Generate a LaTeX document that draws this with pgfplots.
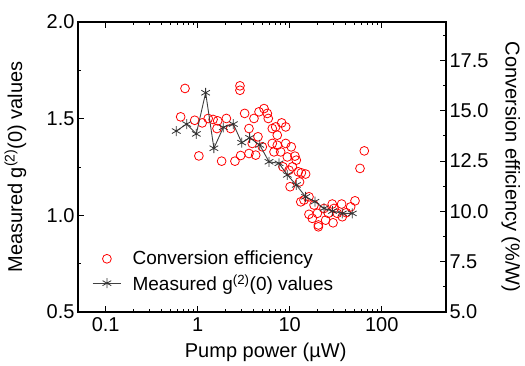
\documentclass[border=0pt]{standalone}
\usepackage{pgfplots}
\pgfplotsset{compat=1.18}
\usepackage{fontspec}
\setmainfont{Liberation Sans}
\pgfplotstableread{
x y
0.728 16.10
0.653 14.69
0.928 14.52
1.03 12.75
1.12 14.39
1.30 14.61
1.47 14.56
1.65 14.49
1.62 14.11
1.82 12.49
2.05 14.61
2.28 14.11
2.54 12.49
2.88 16.23
2.88 16.01
2.93 12.77
3.24 14.86
3.61 14.11
3.61 12.87
3.92 13.37
4.09 14.61
4.27 12.79
4.52 13.70
4.64 14.94
5.26 15.10
5.04 13.20
5.71 14.86
5.85 14.61
6.47 14.11
6.47 13.37
6.75 12.95
7.04 14.19
7.33 13.78
7.33 13.28
8.18 14.39
7.98 12.95
8.46 12.21
9.05 14.19
9.05 13.37
9.42 12.70
9.83 12.04
10.1 11.22
10.4 13.20
10.7 12.21
11.4 12.74
11.8 12.54
12.4 11.96
12.8 11.46
13.4 11.91
14.9 11.85
13.2 10.47
14.3 10.56
16.2 10.72
16.2 9.85
17.6 9.65
18.4 10.31
20.0 9.90
20.5 9.32
20.5 9.23
23.6 10.14
24.6 9.56
26.3 9.90
29.0 10.36
29.6 9.43
30.3 10.14
32.9 9.90
36.7 10.36
37.3 9.73
41.2 9.93
46.0 10.22
51.3 10.52
58.1 12.13
64.7 13.00
}\effdata
\pgfplotstableread{
x y
0.585 1.436
0.759 1.472
0.966 1.421
1.22 1.634
1.50 1.347
1.90 1.455
2.44 1.472
3.01 1.376
3.67 1.401
4.72 1.364
5.96 1.277
7.65 1.269
9.42 1.209
11.8 1.157
14.9 1.096
18.8 1.071
23.6 1.036
29.2 1.022
37.3 1.010
47.9 1.010
}\gdata
\begin{document}
\begin{tikzpicture}[font=\fontsize{20}{24}\selectfont]
\pgfplotsset{
  every axis/.append style={
    scale only axis, width=368pt, height=290pt,
    xmode=log, xmin=0.05, xmax=500,
    tick align=inside,
    major tick length=6pt, minor tick length=3pt,
    every tick/.style={black, line width=0.9pt},
    axis line style={line width=1.6pt},
    /pgf/number format/assume math mode=true,
    tick label style={font=\fontsize{20}{24}\selectfont},
    label style={font=\fontsize{20}{24}\selectfont},
  },
}
\begin{axis}[name=main,
  ymin=5, ymax=19.4,
  ytick={5,7.5,10,12.5,15,17.5},
  minor ytick={6.25,8.75,11.25,13.75,16.25,18.75},
  ytick pos=right, yticklabel pos=right,
  yticklabel style={/pgf/number format/.cd, fixed, fixed zerofill, precision=1},
  xtick={0.1,1,10,100}, xticklabels={0.1,1,10,100},
  xticklabel style={yshift=-2pt},
  xlabel={Pump power (µW)},
  xlabel style={at={(axis description cs:0.51,-0.14)}, anchor=center},
  ylabel={Conversion efficiency (\%/W)},
  ylabel style={at={(axis description cs:1.176,0.5)}, anchor=center, rotate=180},
]
\addplot[only marks, mark=o, mark size=4.4pt, draw=red, mark options={line width=0.8pt, draw=red, fill=none}] table[x=x,y=y]{\effdata};
\end{axis}
\begin{axis}[
  hide x axis,
  axis y line*=left,
  ymin=0.5, ymax=2.0,
  ytick={0.5,1.0,1.5,2.0},
  minor ytick={0.75,1.25,1.75},
  yticklabel style={/pgf/number format/.cd, fixed, fixed zerofill, precision=1},
  ylabel={Measured g\textsuperscript{(2)}(0) values},
  ylabel style={at={(axis description cs:-0.17,0.5)}, anchor=center},
  legend style={draw=none, fill=none, at={(axis description cs:0.03,0.055)}, anchor=south west,
    font=\fontsize{19}{22}\selectfont, row sep=4pt, column sep=9pt},
  legend cell align=left,
  legend image code/.code={\draw[mark repeat=2,mark phase=2,#1] plot coordinates {(0cm,0cm) (0.5cm,0cm) (1cm,0cm)};},
]
\addlegendimage{only marks, mark=o, mark size=4.4pt, draw=red, mark options={line width=0.8pt, draw=red, fill=none}}
\addlegendentry{Conversion efficiency}
\addplot[black!75, line width=0.9pt, mark=asterisk, mark size=5pt, mark options={black!80, line width=0.8pt}] table[x=x,y=y]{\gdata};
\addlegendentry{Measured g\textsuperscript{(2)}(0) values}
\end{axis}
\pgfresetboundingbox
\path ([xshift=-78pt,yshift=-54pt]main.south west) rectangle ++(525pt,366pt);
\end{tikzpicture}
\end{document}
